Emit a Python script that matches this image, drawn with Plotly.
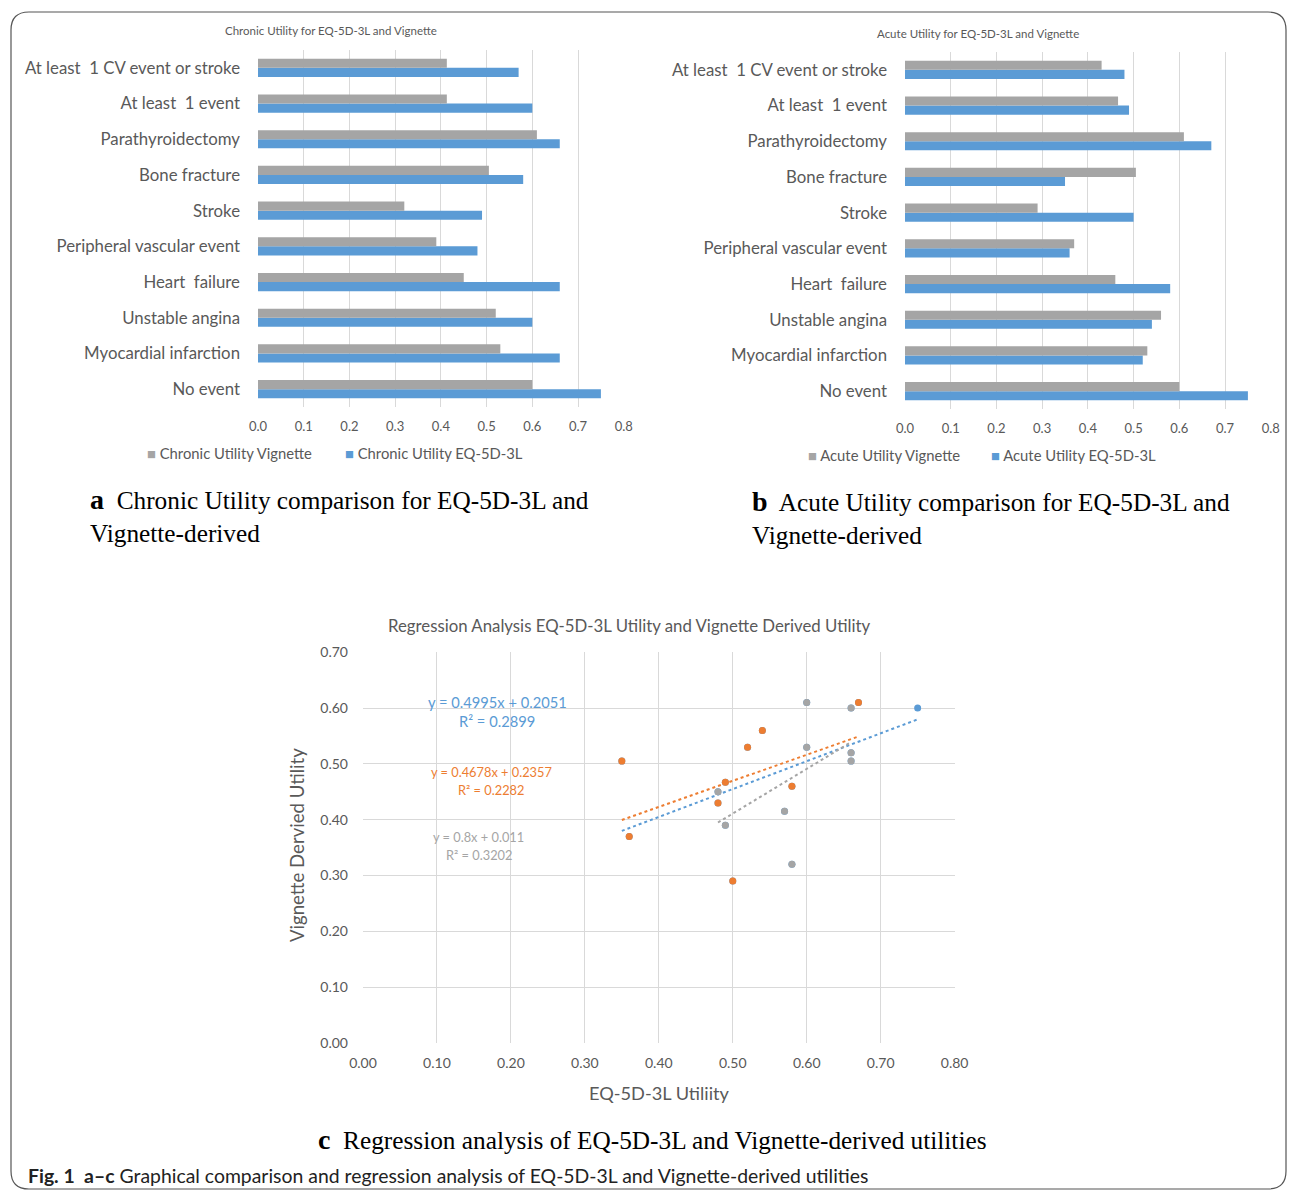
import plotly.graph_objects as go

OFF = 8  # page body margin
W, H = 1279, 1182
NB = "\u00a0"

# ---------------- data ----------------
categories = ["No event", "Myocardial infarction", "Unstable angina", "Heart" + NB + NB + "failure",
              "Peripheral vascular event", "Stroke", "Bone fracture", "Parathyroidectomy",
              "At least" + NB + NB + "1 event", "At least" + NB + NB + "1 CV event or stroke"]
chronic_vignette = [0.60, 0.53, 0.52, 0.45, 0.39, 0.32, 0.505, 0.61, 0.413, 0.413]
chronic_eq5d = [0.75, 0.66, 0.60, 0.66, 0.48, 0.49, 0.58, 0.66, 0.60, 0.57]
acute_vignette = [0.60, 0.53, 0.56, 0.46, 0.37, 0.29, 0.505, 0.61, 0.466, 0.43]
acute_eq5d = [0.75, 0.52, 0.54, 0.58, 0.36, 0.50, 0.35, 0.67, 0.49, 0.48]

# scatter (regression panel)
acute_x = [0.35, 0.36, 0.48, 0.49, 0.50, 0.52, 0.54, 0.58, 0.67]
acute_y = [0.505, 0.37, 0.43, 0.467, 0.29, 0.53, 0.56, 0.46, 0.61]
chronic_x = [0.48, 0.49, 0.57, 0.58, 0.60, 0.60, 0.66, 0.66, 0.66]
chronic_y = [0.45, 0.39, 0.415, 0.32, 0.53, 0.61, 0.505, 0.52, 0.60]
noevent_x = [0.75]
noevent_y = [0.60]
combined_x = acute_x + chronic_x + noevent_x
combined_y = acute_y + chronic_y + noevent_y

trend_slopes = {"combined": 0.4995, "acute": 0.4678, "chronic": 0.8}
trend_intercepts = {"combined": 0.2051, "acute": 0.2357, "chronic": 0.011}
trend_labels = {"combined": ("y = 0.4995x + 0.2051", "R² = 0.2899"),
                "acute": ("y = 0.4678x + 0.2357", "R² = 0.2282"),
                "chronic": ("y = 0.8x + 0.011", "R² = 0.3202")}

x_ticks_bar = [0.0, 0.1, 0.2, 0.3, 0.4, 0.5, 0.6, 0.7, 0.8]
x_ticks_sc = [0.0, 0.1, 0.2, 0.3, 0.4, 0.5, 0.6, 0.7, 0.8]
y_ticks_sc = [0.0, 0.1, 0.2, 0.3, 0.4, 0.5, 0.6, 0.7]

GRAY = "#A5A5A5"
BLUE = "#5B9BD5"
ORANGE = "#ED7D31"
TXT = "#595959"
GRID = "#D9D9D9"
FONT = "Lato"
SERIF = "Liberation Serif"


def px(x):
    return (x - OFF) / W


def py(y):
    return 1 - (y - OFF) / H


fig = go.Figure()

# ---------------- bar charts ----------------
for ax, vig, eq in [("", chronic_vignette, chronic_eq5d), ("2", acute_vignette, acute_eq5d)]:
    fig.add_trace(go.Bar(y=categories, x=eq, orientation="h", marker=dict(color=BLUE, line=dict(width=0)),
                         xaxis="x" + ax, yaxis="y" + ax, showlegend=False))
    fig.add_trace(go.Bar(y=categories, x=vig, orientation="h", marker=dict(color=GRAY, line=dict(width=0)),
                         xaxis="x" + ax, yaxis="y" + ax, showlegend=False))

# ---------------- scatter ----------------
groups = [("combined", combined_x, combined_y, BLUE),
          ("acute", acute_x, acute_y, ORANGE),
          ("chronic", chronic_x, chronic_y, GRAY)]
for key, xs, ys, col in groups:
    x0, x1 = min(xs), max(xs)
    m, b = trend_slopes[key], trend_intercepts[key]
    fig.add_trace(go.Scatter(x=[x0, x1], y=[m * x0 + b, m * x1 + b], mode="lines",
                             line=dict(color=col, width=2, dash="dot"),
                             xaxis="x3", yaxis="y3", showlegend=False))
for key, xs, ys, col in groups:
    fig.add_trace(go.Scatter(x=xs, y=ys, mode="markers", marker=dict(color=col, size=7),
                             xaxis="x3", yaxis="y3", showlegend=False))

bar_x_common = dict(range=[0, 0.8005], tickvals=x_ticks_bar, ticktext=[f"{v:.1f}" for v in x_ticks_bar],
                    showgrid=True, gridcolor=GRID, gridwidth=1, zeroline=False, showline=False,
                    tickfont=dict(family=FONT, size=13, color=TXT), ticks="", automargin=False,
                    ticklabelstandoff=10)
bar_y_common = dict(type="category", categoryorder="array", categoryarray=categories,
                    showgrid=False, zeroline=False, showline=False, ticks="", automargin=False,
                    tickfont=dict(family=FONT, size=16.8, color=TXT), ticklabelstandoff=17)

fig.update_layout(
    width=W, height=H, autosize=False,
    margin=dict(l=0, r=0, t=0, b=0, pad=0, autoexpand=False),
    paper_bgcolor="white", plot_bgcolor="white",
    barmode="group", bargap=0.49, bargroupgap=0,
    xaxis=dict(domain=[px(258), px(624)], anchor="y", **bar_x_common),
    yaxis=dict(domain=[py(407), py(50)], anchor="x", **bar_y_common),
    xaxis2=dict(domain=[px(905), px(1271)], anchor="y2", **bar_x_common),
    yaxis2=dict(domain=[py(409), py(52)], anchor="x2", **bar_y_common),
    xaxis3=dict(domain=[px(363), px(955)], anchor="y3", range=[0, 0.8005],
                tickvals=x_ticks_sc, ticktext=[f"{v:.2f}" for v in x_ticks_sc],
                showgrid=True, gridcolor=GRID, zeroline=False, showline=False, ticks="",
                automargin=False, tickfont=dict(family=FONT, size=14, color=TXT), ticklabelstandoff=10),
    yaxis3=dict(domain=[py(1043), py(652)], anchor="x3", range=[0, 0.7004],
                tickvals=y_ticks_sc, ticktext=[f"{v:.2f}" for v in y_ticks_sc],
                showgrid=True, gridcolor=GRID, zeroline=False, showline=False, ticks="",
                automargin=False, tickfont=dict(family=FONT, size=14, color=TXT), ticklabelstandoff=14),
)

ann = []


def text(x, y, s, size, color=TXT, family=FONT, xanchor="center", align="center", yanchor="middle",
         textangle=0):
    ann.append(dict(x=px(x), y=py(y), xref="paper", yref="paper", text=s, showarrow=False,
                    xanchor=xanchor, yanchor=yanchor, align=align, textangle=textangle,
                    font=dict(family=family, size=size, color=color)))


# chart titles
text(331, 31, "Chronic Utility for EQ-5D-3L and Vignette", 11.5)
text(978, 33, "Acute Utility for EQ-5D-3L and Vignette", 11.5)
text(629, 625, "Regression Analysis EQ-5D-3L Utility and Vignette Derived Utility", 16.8)

# axis titles for regression panel
text(659, 1093, "EQ-5D-3L Utiliity", 18.2)
text(297, 845, "Vignette Dervied Utility", 18.6, textangle=-90)


# legends
def legend_item(x, y, col, label):
    text(x, y, f'<span style="color:{col}">■</span> {label}', 14.8, xanchor="left")


legend_item(145, 453, GRAY, "Chronic Utility Vignette")
legend_item(343, 453, BLUE, "Chronic Utility EQ-5D-3L")
legend_item(806, 455, GRAY, "Acute Utility Vignette")
legend_item(989, 455, BLUE, "Acute Utility EQ-5D-3L")

# trend equations
text(497, 702, trend_labels["combined"][0], 14.7, color=BLUE)
text(497, 721, trend_labels["combined"][1], 14.7, color=BLUE)
text(491, 772, trend_labels["acute"][0], 12.8, color=ORANGE)
text(491, 790, trend_labels["acute"][1], 12.8, color=ORANGE)
text(479, 837, trend_labels["chronic"][0], 12.8, color=GRAY)
text(479, 855, trend_labels["chronic"][1], 12.8, color=GRAY)

# panel captions
text(88, 515, '<b><span style="font-size:28px">a</span></b>  Chronic Utility comparison for EQ-5D-3L and<br>Vignette-derived',
     25.3, color="black", family=SERIF, xanchor="left", align="left")
text(750, 517, '<b><span style="font-size:28px">b</span></b>  Acute Utility comparison for EQ-5D-3L and<br>Vignette-derived',
     25.3, color="black", family=SERIF, xanchor="left", align="left")
text(652, 1139, '<b><span style="font-size:28px">c</span></b>  Regression analysis of EQ-5D-3L and Vignette-derived utilities',
     25.3, color="black", family=SERIF)
text(26, 1175, '<b>Fig. 1  a–c</b> Graphical comparison and regression analysis of EQ-5D-3L and Vignette-derived utilities',
     19.4, color="#222222", xanchor="left", align="left")

fig.update_layout(annotations=ann)

# rounded frame
L, T, R, B, r = 11, 12, 1286, 1189, 18
path = (f"M {px(L + r)},{py(T)} L {px(R - r)},{py(T)} Q {px(R)},{py(T)} {px(R)},{py(T + r)} "
        f"L {px(R)},{py(B - r)} Q {px(R)},{py(B)} {px(R - r)},{py(B)} "
        f"L {px(L + r)},{py(B)} Q {px(L)},{py(B)} {px(L)},{py(B - r)} "
        f"L {px(L)},{py(T + r)} Q {px(L)},{py(T)} {px(L + r)},{py(T)} Z")
fig.add_shape(type="path", path=path, xref="paper", yref="paper", line=dict(color="#555555", width=1.2))

fig.write_html("out.html")
